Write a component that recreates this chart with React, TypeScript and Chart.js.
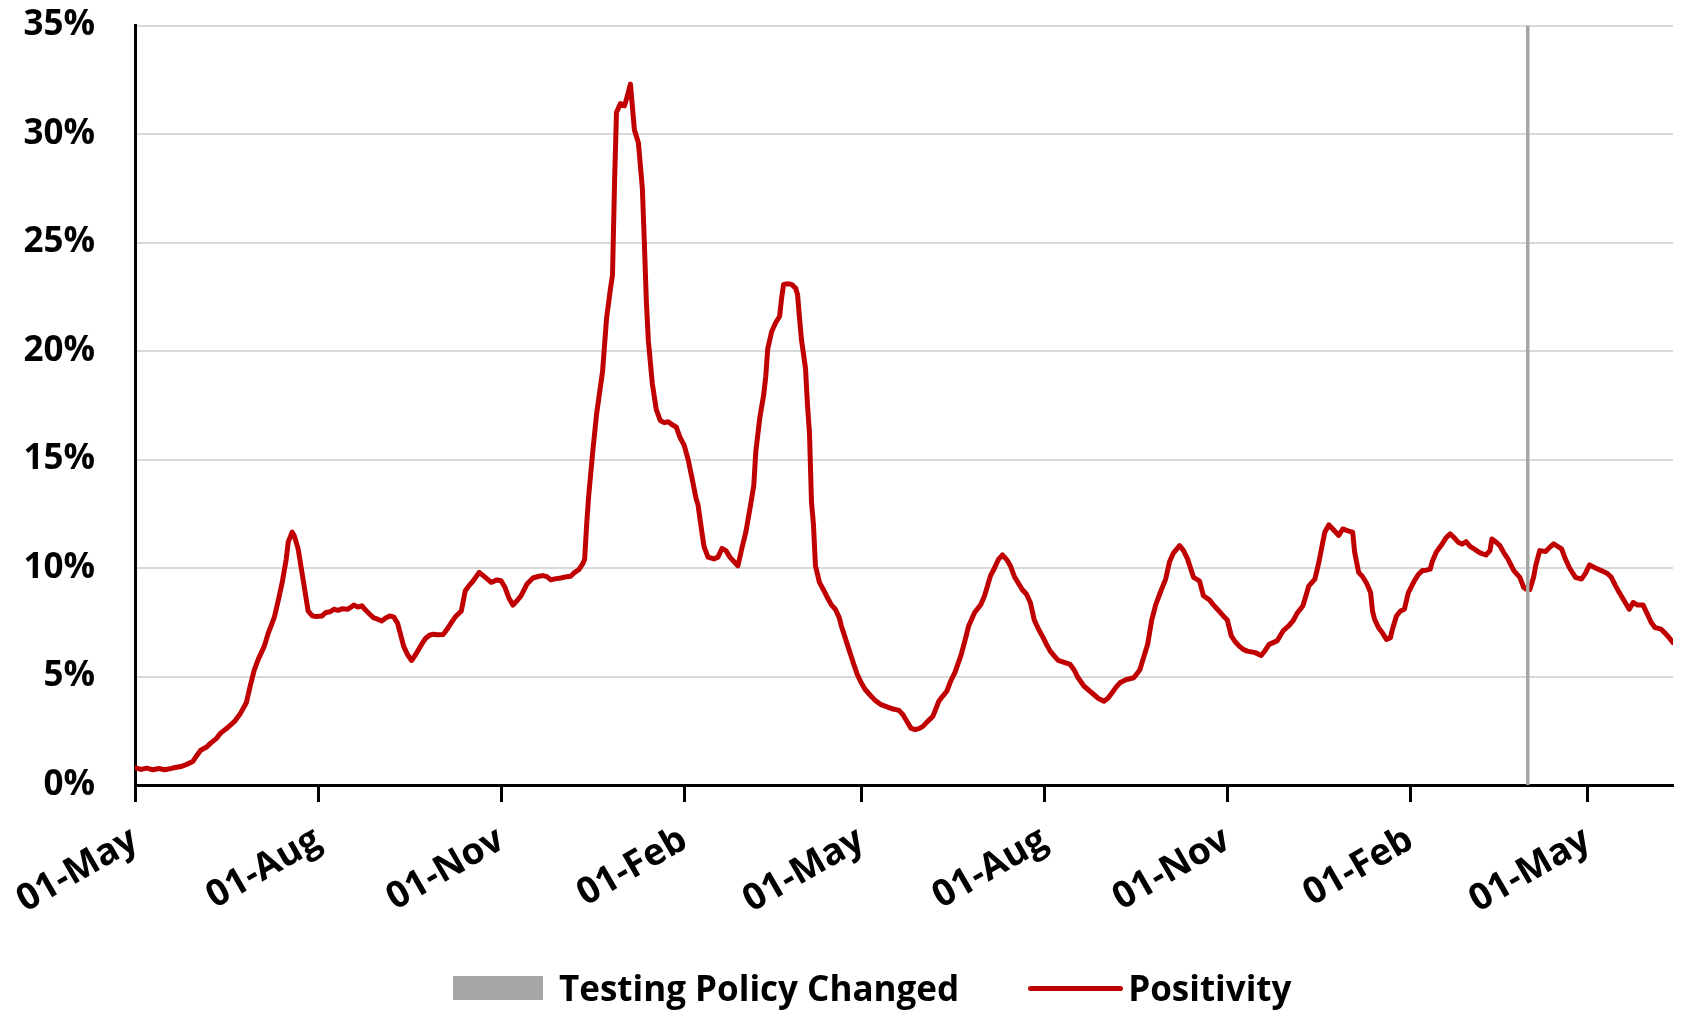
import React, { useEffect, useRef } from 'react';
import { Chart, registerables } from 'chart.js';

Chart.register(...registerables);

// X axis: days since 01-May-2020
const tickDays = [0, 92, 184, 276, 365, 457, 549, 641, 730];
const tickLabels = ['01-May', '01-Aug', '01-Nov', '01-Feb', '01-May', '01-Aug', '01-Nov', '01-Feb', '01-May'];
const xMaxDay = 773;
const yTickValues = [0, 5, 10, 15, 20, 25, 30, 35];
const policyChangeDay = 700;
const policyLineRange = [0, 35];
const legendLabels = ['Testing Policy Changed', 'Positivity'];

const positivityDays = [
  0, 3, 6, 9, 12, 15, 19, 23, 26, 29, 31, 33, 36, 38, 41, 43, 46, 50, 53, 56, 58, 60, 62, 65, 67, 70, 72, 74, 76, 77, 79, 80, 82, 85, 87, 89, 91, 94, 96, 98,
  100, 102, 104, 107, 110, 112, 114, 116, 118, 120, 122, 124, 126, 128, 130, 132, 135, 137, 139, 141, 144, 146, 148, 150, 152, 155, 157, 159, 161, 164, 166, 168, 170, 173, 175, 177, 179, 182, 184, 186, 188, 190, 192, 194, 197,
  200, 203, 205, 207, 209, 211, 214, 217, 219, 221, 223, 225, 226, 227, 228, 230, 232, 235, 237, 239, 240, 241, 242, 244, 246, 247, 249, 251, 253, 255, 256, 257, 258, 260, 262, 264, 266, 268, 270, 272, 274, 276, 278, 280, 282, 283, 285, 286, 288, 291, 293, 295, 297, 299,
  301, 303, 305, 307, 309, 311, 312, 314, 316, 317, 318, 320, 322, 324, 325, 326, 328, 330, 332, 333, 334, 335, 337, 338, 339, 340, 341, 342, 344, 346, 348, 350, 352, 354, 355, 358, 361, 363, 365, 367, 370, 372, 375, 378, 381, 384, 386, 388, 390, 392, 394, 396, 398,
  401, 404, 406, 408, 410, 412, 415, 417, 419, 422, 425, 427, 430, 432, 434, 436, 438, 440, 442, 444, 446, 448, 450, 452, 454, 456, 458, 460, 462, 464, 467, 470, 472, 474, 477, 479, 481, 484, 487, 489, 491, 493, 495, 498,
  502, 505, 507, 509, 511, 513, 515, 518, 520, 522, 525, 527, 529, 532, 535, 537, 540, 542, 544, 547, 549, 551, 553, 555, 557, 559, 563, 566, 568, 570, 574, 577, 580, 582, 584, 587, 590, 593, 595, 597, 598,
  600, 602, 604, 605, 607, 610, 612, 613, 615, 617, 619, 621, 622, 623, 625, 627, 629, 631, 632, 634, 636, 638, 640, 643, 645, 647, 649, 651, 652, 654, 657, 659, 661, 663, 665, 667, 669, 671, 673, 676, 679, 681, 682, 684, 686, 688, 690, 693, 696, 698, 699,
  701, 703, 704, 706, 709, 711, 713, 715, 717, 719, 721, 724, 727, 729, 731, 734, 737, 740, 742, 744, 746, 748, 751, 753, 755, 758, 760, 762, 764, 767, 769, 771, 773,
];

const positivityValues = [
  0.80, 0.72, 0.78, 0.70, 0.76, 0.70, 0.78, 0.85, 0.95, 1.08, 1.35, 1.60, 1.75, 1.93, 2.15, 2.39, 2.60, 2.93, 3.30, 3.80, 4.60, 5.32, 5.80, 6.40, 7.00, 7.72, 8.50, 9.34, 10.40, 11.19, 11.65, 11.50, 10.88, 9.18, 8.02, 7.80, 7.76, 7.79, 7.95, 7.98,
  8.10, 8.05, 8.12, 8.10, 8.29, 8.20, 8.26, 8.05, 7.87, 7.70, 7.64, 7.56, 7.70, 7.79, 7.75, 7.45, 6.40, 6.00, 5.74, 6.00, 6.48, 6.75, 6.90, 6.95, 6.92, 6.94, 7.20, 7.48, 7.75, 8.02, 8.95, 9.20, 9.41, 9.80, 9.65, 9.50, 9.34, 9.45, 9.41, 9.10, 8.60, 8.29, 8.50, 8.72, 9.26,
  9.54, 9.62, 9.65, 9.60, 9.45, 9.50, 9.54, 9.60, 9.62, 9.80, 9.92, 10.19, 10.40, 12.00, 13.30, 15.30, 17.10, 19.06, 21.50, 22.90, 23.50, 27.70, 31.00, 31.40, 31.30, 31.60, 32.30, 30.20, 29.60, 27.50, 25.00, 22.30, 20.50, 18.50, 17.30, 16.80, 16.70, 16.74, 16.60, 16.50, 16.00, 15.66, 15.00, 14.12, 13.19, 12.90, 11.60, 10.99, 10.50, 10.42, 10.50, 10.90, 10.80, 10.50,
  10.30, 10.10, 10.90, 11.65, 12.70, 13.80, 15.35, 16.90, 18.00, 18.80, 20.10, 20.90, 21.30, 21.60, 22.45, 23.07, 23.10, 23.07, 22.90, 22.60, 21.50, 20.50, 19.20, 17.50, 16.20, 13.04, 12.00, 10.10, 9.34, 9.00, 8.64, 8.30, 8.10, 7.70, 7.33, 6.48, 5.63, 5.10, 4.71, 4.40, 4.09, 3.90, 3.70, 3.60, 3.50, 3.44, 3.24, 2.93, 2.62, 2.55, 2.60, 2.70, 2.90,
  3.16, 3.86, 4.10, 4.32, 4.80, 5.17, 5.94, 6.60, 7.33, 7.95, 8.30, 8.72, 9.65, 10.00, 10.40, 10.60, 10.40, 10.10, 9.60, 9.30, 9.00, 8.80, 8.41, 7.60, 7.20, 6.87, 6.50, 6.17, 5.95, 5.74, 5.65, 5.56, 5.30, 4.94, 4.55, 4.40, 4.24, 4.00, 3.86, 4.00, 4.24, 4.50, 4.71, 4.85,
  4.94, 5.30, 5.90, 6.50, 7.60, 8.30, 8.80, 9.49, 10.30, 10.70, 11.03, 10.80, 10.42, 9.57, 9.41, 8.72, 8.53, 8.30, 8.10, 7.79, 7.60, 6.87, 6.60, 6.40, 6.25, 6.17, 6.10, 5.97, 6.20, 6.48, 6.64, 7.10, 7.35, 7.56, 7.90, 8.26, 9.18, 9.49, 10.26, 11.20, 11.65,
  11.99, 11.80, 11.60, 11.50, 11.80, 11.70, 11.65, 10.73, 9.80, 9.60, 9.30, 8.87, 8.00, 7.64, 7.25, 7.00, 6.71, 6.79, 7.18, 7.79, 8.02, 8.10, 8.87, 9.41, 9.70, 9.88, 9.90, 9.95, 10.30, 10.73, 11.11, 11.40, 11.57, 11.40, 11.19, 11.10, 11.22, 11.00, 10.88, 10.70, 10.60, 10.80, 11.34, 11.20, 11.03, 10.70, 10.42, 9.88, 9.57, 9.10, 9.03,
  9.00, 9.60, 10.11, 10.80, 10.76, 10.95, 11.11, 11.00, 10.88, 10.40, 10.00, 9.57, 9.49, 9.75, 10.14, 10.00, 9.88, 9.75, 9.57, 9.20, 8.87, 8.56, 8.10, 8.41, 8.30, 8.29, 7.90, 7.50, 7.25, 7.18, 7.00, 6.80, 6.56,
];

const RED = '#C00000';
const GRAY = '#A6A6A6';
const FONT = '"Open Sans", Lato, sans-serif';
const FONT_SIZE = 35;
const X_FONT_SIZE = 37;

const W = 1688;
const H = 1011;

export default function App() {
  const canvasRef = useRef<HTMLCanvasElement | null>(null);

  useEffect(() => {
    if (!canvasRef.current) return;
    const chart = new Chart(canvasRef.current, {
      type: 'line',
      data: {
        datasets: [
          {
            label: legendLabels[0],
            data: policyLineRange.map((v) => ({ x: policyChangeDay, y: v })),
            borderColor: GRAY,
            backgroundColor: GRAY,
            borderWidth: 3.5,
            pointRadius: 0,
            order: 0,
          },
          {
            label: legendLabels[1],
            data: positivityDays.map((d, i) => ({ x: d, y: positivityValues[i] })),
            borderColor: RED,
            backgroundColor: RED,
            borderWidth: 5,
            pointRadius: 0,
            tension: 0,
            borderJoinStyle: 'round',
            borderCapStyle: 'round',
            order: 1,
          },
        ],
      },
      options: {
        animation: false,
        responsive: false,
        maintainAspectRatio: false,
        layout: { padding: { top: 25.5, right: 15, left: 0, bottom: 0 } },
        plugins: { legend: { display: false }, tooltip: { enabled: false } },
        scales: {
          x: {
            type: 'linear',
            min: 0,
            max: xMaxDay,
            afterBuildTicks: (scale: any) => {
              scale.ticks = tickDays.map((v) => ({ value: v }));
            },
            afterFit: (scale: any) => {
              scale.height = H - 785;
              scale.paddingLeft = 0;
              scale.paddingRight = 0;
            },
            ticks: {
              autoSkip: false,
              minRotation: 30,
              maxRotation: 30,
              padding: 16,
              labelOffset: 0,
              color: '#000',
              font: { family: FONT, weight: 'bold', size: X_FONT_SIZE },
              callback: (_v: any, i: number) => tickLabels[i],
            },
            grid: {
              drawOnChartArea: false,
              drawTicks: true,
              tickLength: 17,
              tickWidth: 3,
              tickColor: '#000',
            },
            border: { color: '#000', width: 3 },
          },
          y: {
            min: 0,
            max: 35,
            afterBuildTicks: (scale: any) => {
              scale.ticks = yTickValues.map((v) => ({ value: v }));
            },
            afterFit: (scale: any) => {
              scale.width = 135;
              scale.paddingTop = 0;
              scale.paddingBottom = 0;
            },
            ticks: {
              padding: 40,
              color: '#000',
              font: { family: FONT, weight: 'bold', size: FONT_SIZE },
              callback: (v: any) => `${v}%`,
            },
            grid: { color: '#D9D9D9', lineWidth: 2, drawTicks: false },
            border: { color: '#000', width: 3 },
          },
        },
      } as any,
    });
    return () => chart.destroy();
  }, []);

  const textStyle: React.CSSProperties = {
    fontFamily: FONT,
    fontWeight: 700,
    fontSize: FONT_SIZE,
    color: '#000',
    lineHeight: '44px',
    whiteSpace: 'nowrap',
  };

  return (
    <div style={{ position: 'fixed', left: 0, top: 0, width: W, height: H, background: '#fff' }}>
      <canvas ref={canvasRef} width={W} height={H} style={{ position: 'absolute', left: 0, top: 0, width: W, height: H }} />
      <div
        style={{
          position: 'absolute',
          left: 453,
          top: 966,
          height: 44,
          display: 'flex',
          alignItems: 'center',
        }}
      >
        <div style={{ width: 90, height: 24, background: GRAY }} />
        <span style={{ ...textStyle, marginLeft: 16 }}>{legendLabels[0]}</span>
        <div style={{ width: 95, height: 5, background: RED, borderRadius: 3, marginLeft: 69 }} />
        <span style={{ ...textStyle, marginLeft: 5 }}>{legendLabels[1]}</span>
      </div>
    </div>
  );
}
